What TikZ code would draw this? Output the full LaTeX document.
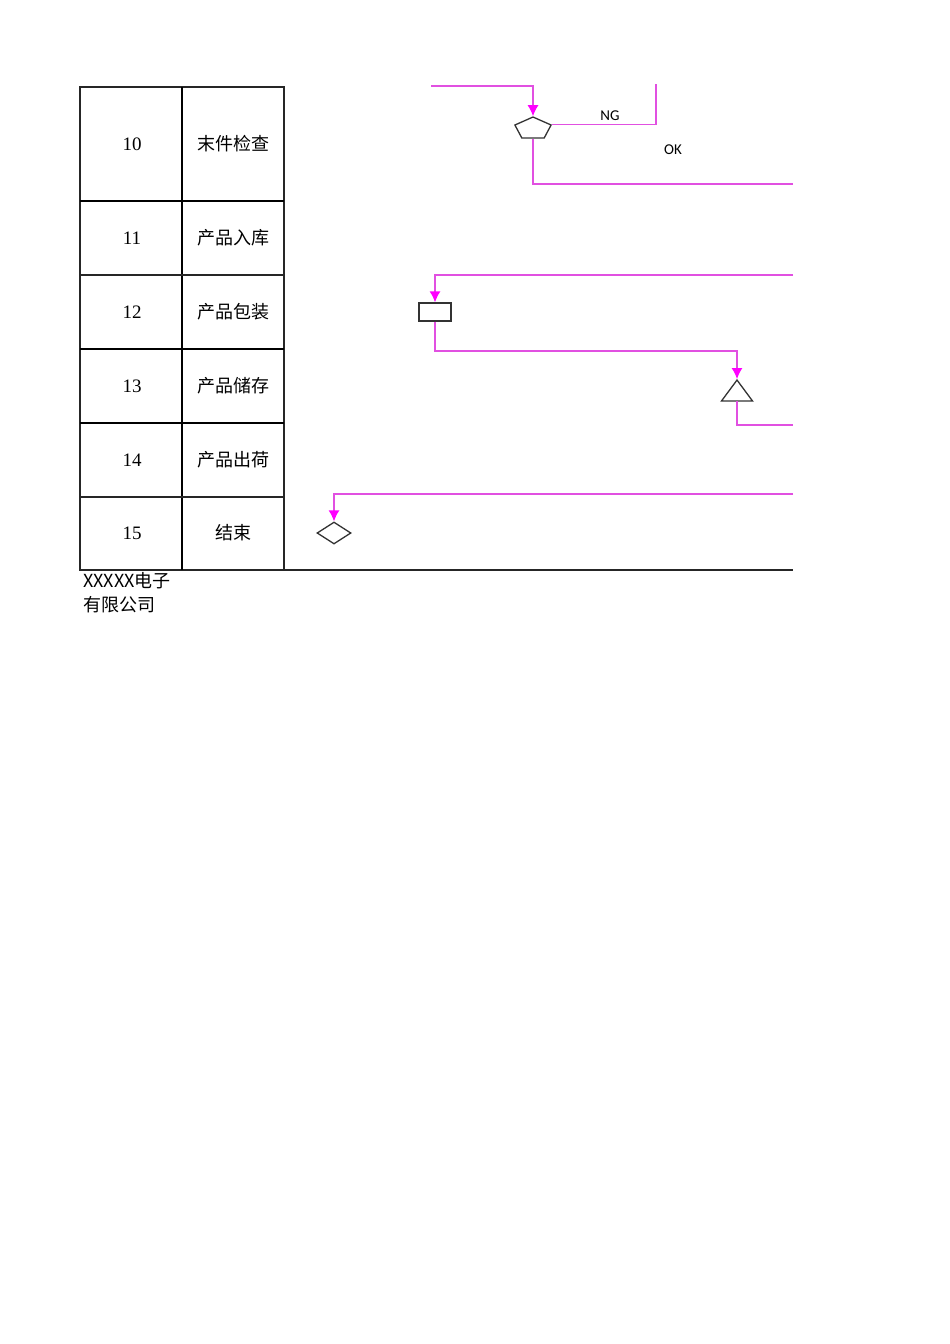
\documentclass[tikz,border=0pt]{standalone}
\usepackage{fontspec}
\newfontfamily\cjk{Noto Sans CJK SC}
\newfontfamily\lat{Carlito}
\newfontfamily\digits{Liberation Serif}
\usetikzlibrary{shapes.geometric,arrows.meta}
\definecolor{flowpink}{RGB}{225,80,225}
\definecolor{tippink}{RGB}{255,0,255}
\tikzstyle{every node}=[inner sep=0pt]
\tikzstyle{grid}=[line width=1.1pt,black!85]
\tikzstyle{gridthick}=[line width=2pt,black]
\tikzstyle{flow}=[draw=flowpink,line width=1.3pt]
\tikzstyle{flowarrow}=[flow,-{Latex[length=11pt,width=11pt,color=tippink]}]
\tikzstyle{sym}=[draw=black!80,line width=1.3pt,fill=white]
\tikzstyle{numtext}=[font=\digits\fontsize{19}{22}\selectfont]
\tikzstyle{cjktext}=[font=\cjk\fontsize{18}{22}\selectfont]
\tikzstyle{flag}=[font=\lat\fontsize{15}{18}\selectfont]

\begin{document}
\begin{tikzpicture}[x=1pt,y=-1pt]
\useasboundingbox (0,0) rectangle (950,1344);

% table
\draw [grid] (80,87) rectangle (284,570);
\draw [grid] (284,570) -- (793,570);
\draw [gridthick] (182,87) -- (182,570);
\draw [gridthick] (80,201) -- (284,201);
\draw [grid] (80,275) -- (284,275);
\draw [gridthick] (80,349) -- (284,349);
\draw [gridthick] (80,423) -- (284,423);
\draw [grid] (80,497) -- (284,497);

\node [numtext] (n10) at (132,144) {10};
\node [cjktext] (s10) at (233,144) {末件检查};
\node [numtext] (n11) at (132,238) {11};
\node [cjktext] (s11) at (233,238) {产品入库};
\node [numtext] (n12) at (132,312) {12};
\node [cjktext] (s12) at (233,312) {产品包装};
\node [numtext] (n13) at (132,386) {13};
\node [cjktext] (s13) at (233,386) {产品储存};
\node [numtext] (n14) at (132,460) {14};
\node [cjktext] (s14) at (233,460) {产品出荷};
\node [numtext] (n15) at (132,533) {15};
\node [cjktext] (s15) at (233,533) {结束};

\node [cjktext,anchor=west] (co1) at (83,581) {XXXXX电子};
\node [cjktext,anchor=west] (co2) at (83,605) {有限公司};

% symbols
\node [sym,regular polygon,regular polygon sides=5,minimum size=23.2pt,xscale=1.64] (chk) at (533,128.6) {};
\node [sym,rectangle,minimum width=32pt,minimum height=18pt] (pack) at (435,312) {};
\node [sym,regular polygon,regular polygon sides=3,minimum size=35.8pt,yscale=0.78] (store) at (737,394) {};
\node [sym,diamond,minimum width=34pt,minimum height=22pt] (finish) at (334,533) {};

\node [flag] (ng) at (610,116) {NG};
\node [flag] (ok) at (673,150) {OK};

% flow lines
\coordinate (in10) at (431,86);
\coordinate (ngtop) at (656,84);
\coordinate (out10) at (793,184);
\coordinate (in12) at (793,275);
\coordinate (out13) at (793,425);
\coordinate (in15) at (793,494);

\draw [flowarrow] (in10) -| (chk.north);
\draw [flow] (chk.corner 5) -| (ngtop);
\draw [flow] (chk.south) |- (out10);
\draw [flowarrow] (in12) -| (pack.north);
\draw [flowarrow] (pack.south) |- (737,351) -- (store.north);
\draw [flow] (store.south) |- (out13);
\draw [flowarrow] (in15) -| (finish.north);
\end{tikzpicture}
\end{document}
